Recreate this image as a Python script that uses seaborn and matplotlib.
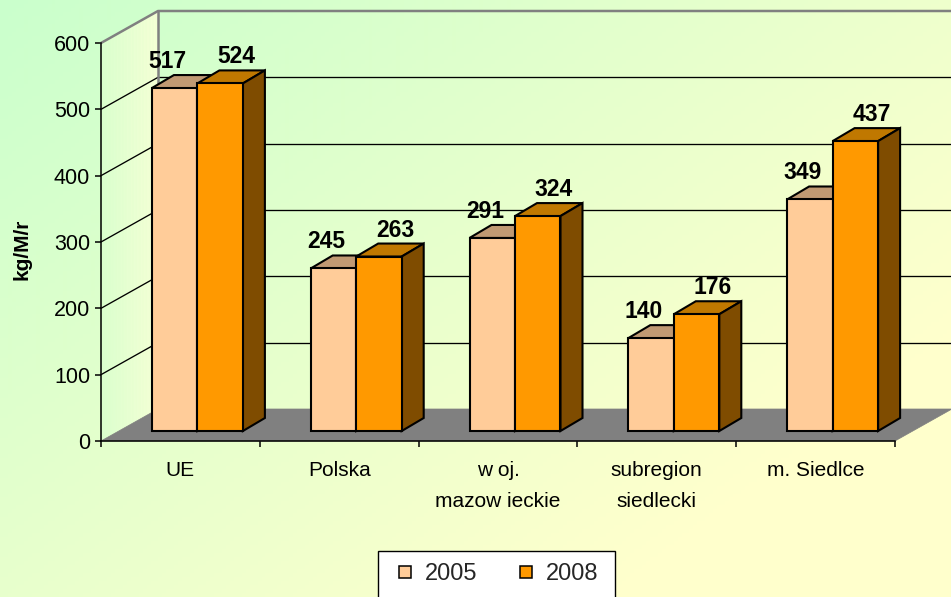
import numpy as np
import pandas as pd
import matplotlib
matplotlib.use("Agg")
import matplotlib.pyplot as plt
import seaborn as sns
from matplotlib.patches import Polygon, Rectangle
from matplotlib.lines import Line2D

# ---------------- data ----------------
regions = ["UE", "Polska", "w oj.\nmazow ieckie", "subregion\nsiedlecki", "m. Siedlce"]
years = ["2005", "2008"]
values_2005 = [517, 245, 291, 140, 349]
values_2008 = [524, 263, 324, 176, 437]
y_ticks = [0, 100, 200, 300, 400, 500, 600]
y_label = "kg/M/r"

front_colors = ["#FFCC99", "#FF9900"]
top_colors = ["#C09973", "#C07800"]
side_colors = ["#806040", "#7F4C00"]

sns.set_style("white")
plt.rcParams["font.family"] = ["Liberation Sans", "DejaVu Sans"]

W, H, DPI = 951, 597, 100
fig = plt.figure(figsize=(W / DPI, H / DPI), dpi=DPI)

# ---------------- background gradient ----------------
bg = fig.add_axes([0, 0, 1, 1], zorder=-10)
bg.set_axis_off()
yy, xx = np.mgrid[0:1:150j, 0:1:240j]
t = np.clip((0.55 * xx + 0.45 * yy) * 1.25, 0, 1)
c0 = np.array([202, 255, 204]) / 255
c1 = np.array([255, 255, 204]) / 255
img = c0[None, None, :] * (1 - t[..., None]) + c1[None, None, :] * t[..., None]
bg.imshow(img, extent=[0, W, H, 0], aspect="auto")
bg.set_xlim(0, W)
bg.set_ylim(H, 0)

# ---------------- main axes (front plane) ----------------
ax = fig.add_axes([101 / W, (H - 441) / H, 794 / W, 398 / H])
ax.set_facecolor("none")

df = pd.DataFrame({
    "region": regions * 2,
    "year": [years[0]] * len(regions) + [years[1]] * len(regions),
    "value": values_2005 + values_2008,
})
sns.barplot(data=df, x="region", y="value", hue="year", hue_order=years,
            palette=front_colors, saturation=1, width=0.573, errorbar=None,
            edgecolor="black", linewidth=1.5, legend=False, ax=ax)
ax.set_xlim(-0.5, len(regions) - 0.5)
ax.set_ylim(y_ticks[0], y_ticks[-1])

# pixels per data unit
p0 = ax.transData.transform((0, 0))
p1 = ax.transData.transform((1, 1))
pxx, pxy = p1[0] - p0[0], p1[1] - p0[1]

# depth offsets (pixels -> data)
FX, FY = 17 / pxx, 10 / pxy      # bar front plane offset
BX, BY = 22 / pxx, 13 / pxy      # bar depth
DX, DY = 57 / pxx, 32 / pxy      # floor / wall depth
x_lo, x_hi = -0.5, len(regions) - 0.5
ymax = y_ticks[-1]

# side wall gradient fill
n_strips = 40
ca = np.array([218, 255, 206]) / 255
cb = np.array([246, 255, 214]) / 255
for i in range(n_strips):
    f0, f1 = i / n_strips, (i + 1) / n_strips
    col = ca * (1 - f0) + cb * f0
    poly = Polygon([(x_lo + f0 * DX, f0 * DY), (x_lo + f1 * DX, f1 * DY),
                    (x_lo + f1 * DX, ymax + f1 * DY), (x_lo + f0 * DX, ymax + f0 * DY)],
                   closed=True, facecolor=col, edgecolor=col, lw=0.3,
                   clip_on=False, zorder=0.3)
    ax.add_patch(poly)

# gridlines on back wall and side wall
for v in y_ticks[1:-1]:
    ax.add_line(Line2D([x_lo + DX, x_hi + DX], [v + DY, v + DY], color="black",
                       lw=0.95, clip_on=False, zorder=0.8))
    ax.add_line(Line2D([x_lo, x_lo + DX], [v, v + DY], color="black",
                       lw=0.95, clip_on=False, zorder=0.8))
# wall edges
wall_c = "#808080"
ax.add_line(Line2D([x_lo, x_lo + DX, x_hi + DX], [ymax, ymax + DY, ymax + DY],
                   color=wall_c, lw=1.8, clip_on=False, zorder=0.9))
ax.add_line(Line2D([x_lo + DX, x_lo + DX], [DY, ymax + DY], color=wall_c,
                   lw=1.8, clip_on=False, zorder=0.9))

# floor
floor = Polygon([(x_lo, 0), (x_hi, 0), (x_hi + DX, DY), (x_lo + DX, DY)],
                closed=True, facecolor="#808080", edgecolor="#808080", lw=0.5,
                clip_on=False, zorder=1)
ax.add_patch(floor)

# ---------------- 3D bars from seaborn patches ----------------
bars = [p for p in ax.patches if isinstance(p, Rectangle) and p.get_height() > 0
        and abs(p.get_width() - 0.573 / 2) < 0.01]
label_dx = {0: -7, 1: 16}
for p in bars:
    fc = matplotlib.colors.to_hex(p.get_facecolor())
    k = 0 if fc.lower() == front_colors[0].lower() else 1
    x0, w, h = p.get_x(), p.get_width(), p.get_height()
    x0n = x0 + FX
    p.set_xy((x0n, FY))
    p.set_clip_on(False)
    p.set_joinstyle("miter")
    z = 3 + 2 * k
    p.set_zorder(z + 0.5)
    top = Polygon([(x0n, h + FY), (x0n + w, h + FY), (x0n + w + BX, h + FY + BY),
                   (x0n + BX, h + FY + BY)], closed=True, facecolor=top_colors[k],
                  edgecolor="black", lw=1.5, joinstyle="miter", clip_on=False, zorder=z + 0.4)
    side = Polygon([(x0n + w, FY), (x0n + w, h + FY), (x0n + w + BX, h + FY + BY),
                    (x0n + w + BX, FY + BY)], closed=True, facecolor=side_colors[k],
                   edgecolor="black", lw=1.5, joinstyle="miter", clip_on=False, zorder=z + 0.4)
    ax.add_patch(top)
    ax.add_patch(side)
    ax.text(x0n + w / 2 + label_dx[k] / pxx, h + FY + 20 / pxy, f"{int(round(h))}",
            ha="center", va="baseline", fontsize=16.5, fontweight="bold",
            color="black", zorder=10, clip_on=False)

# ---------------- axes styling ----------------
for s in ["top", "right"]:
    ax.spines[s].set_visible(False)
for s in ["left", "bottom"]:
    ax.spines[s].set_color("black")
    ax.spines[s].set_linewidth(1.1)
    ax.spines[s].set_zorder(2.5)

ax.set_yticks(y_ticks)
ax.set_yticklabels([str(v) for v in y_ticks])
ax.tick_params(axis="y", left=True, direction="out", length=4.3, width=1.1,
               color="black", labelsize=15.5, pad=3.5, labelcolor="black")

ax.set_xticks(np.arange(x_lo, x_hi + 0.01, 1.0))
ax.set_xticklabels([])
ax.set_xticks(range(len(regions)), minor=True)
ax.set_xticklabels(regions, minor=True, fontsize=15, linespacing=1.8)
ax.tick_params(axis="x", which="major", bottom=True, direction="out", length=4.3,
               width=1.1, color="black")
ax.tick_params(axis="x", which="minor", bottom=True, length=0, pad=14.5,
               labelcolor="black")
ax.set_xlabel("")
ax.set_ylabel("")
fig.text(22 / W, 1 - 249 / H, y_label, rotation=90, ha="center", va="center",
         fontsize=15, fontweight="bold", color="black")

# ---------------- legend ----------------
fig.patches.append(Rectangle((378 / W, -20 / H), (615 - 378) / W, (H - 551 + 20) / H,
                             transform=fig.transFigure, facecolor="white",
                             edgecolor="black", lw=1.0, zorder=5))
handles = [Line2D([], [], marker="s", linestyle="", markersize=8.5,
                  markerfacecolor=c, markeredgecolor="black", markeredgewidth=1.1)
           for c in front_colors]
leg = fig.legend(handles, years, loc="center", bbox_to_anchor=(497 / W, 1 - 574 / H),
                 ncol=2, frameon=False, fontsize=17, handlelength=0.8,
                 handletextpad=0.45, columnspacing=1.63, borderpad=0)
leg.set_zorder(6)

fig.savefig("out.png", dpi=DPI)
